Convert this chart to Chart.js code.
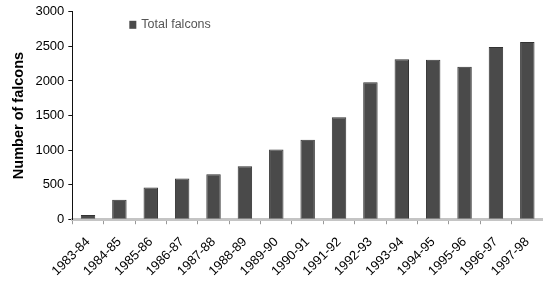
<!DOCTYPE html>
<html>
  <head>
    <title>Total falcons</title>
    <script src="https://cdn.jsdelivr.net/npm/chart.js@4.4.0/dist/chart.umd.min.js"></script>
    <style>
      body { margin: 0; background: #fff; }
    </style>
  </head>
  <body>
    <canvas id="myChart" width="543" height="281"></canvas>
    <script>
      const seasons = ['1983-84', '1984-85', '1985-86', '1986-87', '1987-88', '1988-89', '1989-90', '1990-91',
        '1991-92', '1992-93', '1993-94', '1994-95', '1995-96', '1996-97', '1997-98'];
      const totalFalcons = [60, 280, 460, 590, 650, 765, 1010, 1150, 1475, 1980, 2315, 2305, 2205, 2490, 2565];
      const seriesName = 'Total falcons';
      const yTitle = 'Number of falcons';

      // legend drawn inside the plot area, like the original
      const innerLegend = {
        id: 'innerLegend',
        afterDraw(chart) {
          const ctx = chart.ctx;
          const x = chart.chartArea.left + 57;
          const y = chart.chartArea.top + 13;
          ctx.save();
          ctx.fillStyle = '#4a4a4a';
          ctx.fillRect(x, y - 4, 7, 8);
          ctx.fillStyle = '#555';
          ctx.font = '12.5px "Liberation Sans", Arial, sans-serif';
          ctx.textBaseline = 'middle';
          ctx.fillText(seriesName, x + 12, y);
          ctx.restore();
        }
      };

      const font = '"Liberation Sans", Arial, sans-serif';
      const ctx = document.getElementById('myChart').getContext('2d');
      const myChart = new Chart(ctx, {
        type: 'bar',
        data: {
          labels: seasons,
          datasets: [{
            label: seriesName,
            data: totalFalcons,
            backgroundColor: '#4a4a4a',
            borderColor: '#333',
            borderWidth: 1,
            categoryPercentage: 1,
            barPercentage: 0.46
          }]
        },
        options: {
          responsive: false,
          animation: false,
          layout: { padding: { top: 8, right: 0, left: 6, bottom: -8 } },
          plugins: {
            legend: { display: false },
            tooltip: { enabled: false }
          },
          scales: {
            x: {
              // let the axis run to the right edge
              afterFit(scale) { scale.paddingRight = 0; },
              grid: {
                offset: true,
                drawOnChartArea: false,
                color: '#999',
                tickLength: 5
              },
              border: { color: '#c4c4c4', width: 3 },
              ticks: {
                color: '#000',
                maxRotation: 45,
                minRotation: 45,
                autoSkip: false,
                padding: 10,
                font: { family: font, size: 13 }
              }
            },
            y: {
              min: 0,
              max: 3000,
              ticks: {
                stepSize: 500,
                color: '#000',
                padding: 4,
                callback: v => String(v),
                font: { family: font, size: 13 }
              },
              grid: {
                drawOnChartArea: false,
                color: '#111',
                tickLength: 4
              },
              border: { color: '#111', width: 1 },
              title: {
                display: true,
                text: yTitle,
                color: '#000',
                padding: 4,
                font: { family: font, size: 14.5, weight: 'bold' }
              }
            }
          }
        },
        plugins: [innerLegend]
      });
    </script>
  </body>
</html>
